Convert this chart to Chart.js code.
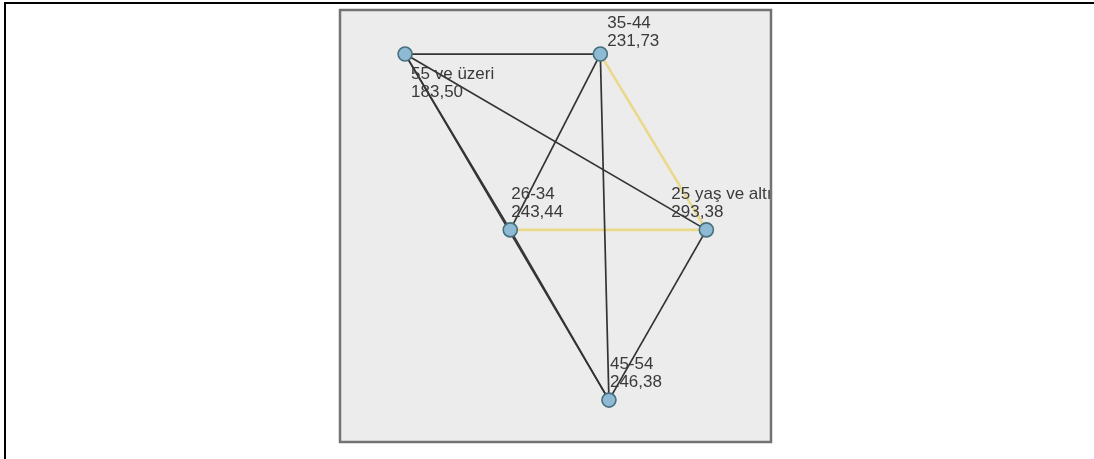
<!DOCTYPE html>
<html>
<head>
<meta charset="utf-8">
<script src="https://cdn.jsdelivr.net/npm/chart.js@4"></script>
<style>
  html, body { margin: 0; padding: 0; background: #fff; }
  #wrap { width: 1094px; height: 459px; }
</style>
</head>
<body>
<div id="wrap"><canvas id="pairChart" width="1094" height="459"></canvas></div>
<script>
// groups and their mean ranks
const categories = ['25 yaş ve altı', '26-34', '35-44', '45-54', '55 ve üzeri'];
const meanRanks = [293.38, 243.44, 231.73, 246.38, 183.50];
// node layout (0-100 units)
const nodeX = [85.0, 39.5, 60.4, 62.4, 15.1];
const nodeY = [49.1, 49.1, 89.8, 9.7, 89.8];
// pairwise comparisons, flagged ones drawn in yellow
const pairs = [[4,2],[4,1],[4,0],[4,3],[2,1],[2,3],[2,0],[1,0],[1,3],[0,3]];
const flagged = [false, false, false, false, false, false, true, true, false, false];

// label offset (px) from each node
const labelOffsets = [[-35, -36], [1, -36], [7, -31], [1, -36], [6, 20]];

const nodePoints = categories.map((c, i) => ({ x: nodeX[i], y: nodeY[i] }));

const edgeSets = pairs.map((p, k) => ({
    type: 'line',
    data: [nodePoints[p[0]], nodePoints[p[1]]],
    borderColor: flagged[k] ? '#ead98b' : '#333333',
    borderWidth: flagged[k] ? 2.6 : 1.7,
    pointRadius: 0,
    fill: false,
    order: 2
}));

const panelPlugin = {
    id: 'panel',
    beforeDraw(chart) {
        const ctx = chart.ctx, a = chart.chartArea;
        ctx.save();
        ctx.fillStyle = '#fff';
        ctx.fillRect(0, 0, chart.width, chart.height);
        ctx.fillStyle = '#000';
        ctx.fillRect(4, 2, chart.width - 4, 2);
        ctx.fillRect(4, 2, 2, chart.height - 2);
        ctx.fillStyle = '#ececec';
        ctx.fillRect(a.left, a.top, a.right - a.left, a.bottom - a.top);
        ctx.restore();
    },
    afterDraw(chart) {
        const ctx = chart.ctx, a = chart.chartArea;
        const xs = chart.scales.x, ys = chart.scales.y;
        ctx.save();
        ctx.beginPath();
        ctx.rect(a.left, a.top, a.right - a.left, a.bottom - a.top);
        ctx.clip();
        ctx.font = '17px "Liberation Sans", Arial, sans-serif';
        ctx.fillStyle = '#3a3a3a';
        ctx.textBaseline = 'middle';
        categories.forEach((c, i) => {
            const px = xs.getPixelForValue(nodeX[i]) + labelOffsets[i][0];
            const py = ys.getPixelForValue(nodeY[i]) + labelOffsets[i][1];
            ctx.fillText(c, px, py);
            ctx.fillText(meanRanks[i].toFixed(2).replace('.', ','), px, py + 18);
        });
        ctx.restore();
        ctx.save();
        ctx.strokeStyle = '#737373';
        ctx.lineWidth = 2.5;
        ctx.strokeRect(a.left, a.top, a.right - a.left, a.bottom - a.top);
        ctx.restore();
    }
};

new Chart(document.getElementById('pairChart').getContext('2d'), {
    type: 'scatter',
    data: {
        datasets: [{
            label: 'groups',
            data: nodePoints,
            backgroundColor: '#8ebad3',
            borderColor: '#47707f',
            borderWidth: 1.6,
            pointRadius: 7,
            order: 0
        }].concat(edgeSets)
    },
    options: {
        responsive: false,
        animation: false,
        layout: { padding: { left: 340, top: 10, right: 323, bottom: 17 } },
        scales: {
            x: { display: false, min: 0, max: 100 },
            y: { display: false, min: 0, max: 100 }
        },
        plugins: {
            legend: { display: false },
            tooltip: { enabled: false }
        }
    },
    plugins: [panelPlugin]
});
</script>
</body>
</html>
